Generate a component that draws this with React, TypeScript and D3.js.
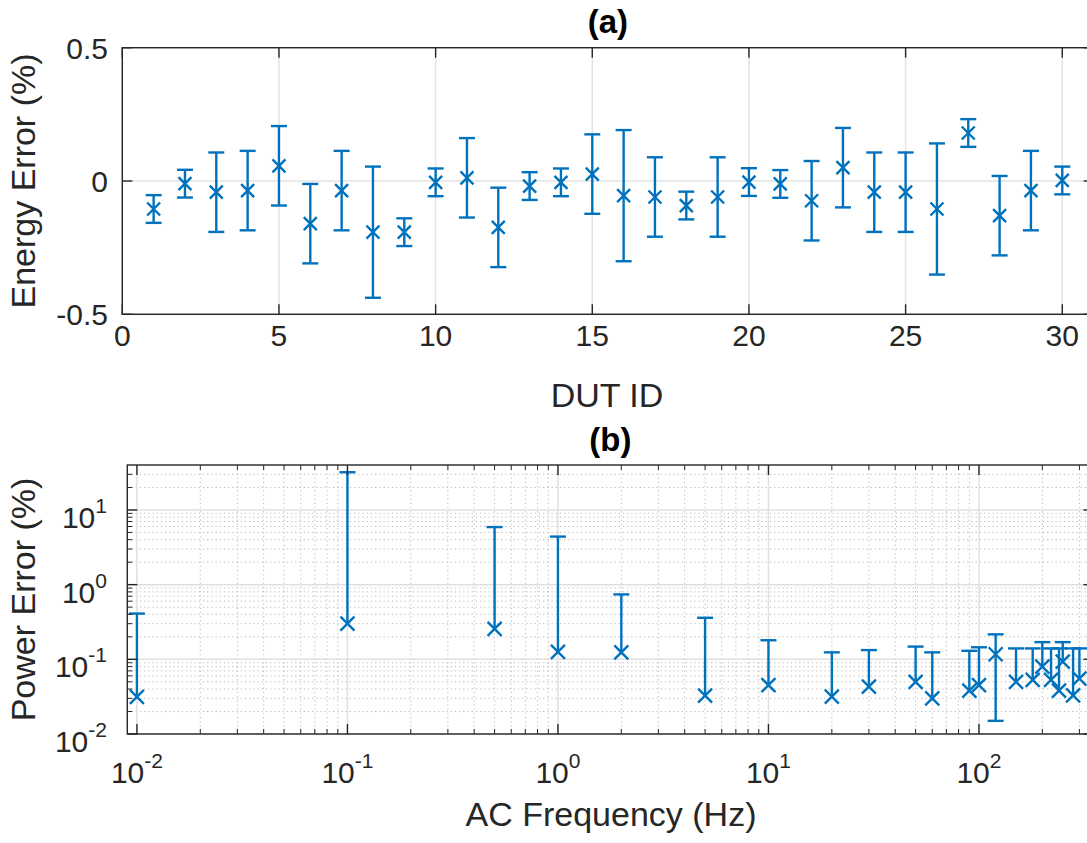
import React from 'react';
import * as d3 from 'd3';

// (a) energy error per DUT
const dutIds = [1, 2, 3, 4, 5, 6, 7, 8, 9, 10, 11, 12, 13, 14, 15, 16, 17, 18, 19, 20, 21, 22, 23, 24, 25, 26, 27, 28, 29, 30];
const energyMean = [-0.105, -0.01, -0.042, -0.036, 0.057, -0.16, -0.036, -0.192, -0.192, -0.005, 0.012, -0.174, -0.019, -0.005, 0.026, -0.055, -0.06, -0.092, -0.06, -0.004, -0.011, -0.074, 0.05, -0.042, -0.042, -0.105, 0.18, -0.13, -0.036, 0.002];
const energyErr = [0.052, 0.052, 0.149, 0.149, 0.149, 0.149, 0.149, 0.246, 0.052, 0.052, 0.149, 0.149, 0.052, 0.052, 0.149, 0.246, 0.149, 0.052, 0.149, 0.052, 0.052, 0.149, 0.149, 0.149, 0.149, 0.246, 0.052, 0.149, 0.149, 0.052];
const energyTicksX = [0, 5, 10, 15, 20, 25, 30];
const energyTicksY = [-0.5, 0, 0.5];
const energyTickLabelsY = ['-0.5', '0', '0.5'];

// (b) power error vs AC frequency
const freqHz = [0.01, 0.1, 0.5, 1, 2, 5, 10, 20, 30, 50, 60, 90, 100, 120, 150, 180, 200, 220, 240, 250, 280, 300];
const powerErr = [0.0315, 0.3, 0.255, 0.126, 0.124, 0.0326, 0.045, 0.0316, 0.043, 0.05, 0.03, 0.038, 0.045, 0.117, 0.05, 0.053, 0.08, 0.053, 0.038, 0.093, 0.033, 0.055];
const powerUpper = [0.41, 32, 5.9, 4.4, 0.74, 0.36, 0.18, 0.124, 0.133, 0.148, 0.124, 0.13, 0.145, 0.216, 0.14, 0.14, 0.17, 0.14, 0.14, 0.17, 0.14, 0.14];
const powerLower = [null, null, null, null, null, null, null, null, null, null, null, null, null, 0.015, null, null, null, null, null, null, null, null];
const decadeExps = [-2, -1, 0, 1, 2];
const powerDecadeExps = [-2, -1, 0, 1];

const BLUE = '#0072BD';
const AXIS = '#262626';
const FONT = 'Liberation Sans, Arial, Helvetica, sans-serif';

const Cross = ({ x, y, r }) => (
  <path d={`M${x - r},${y - r}L${x + r},${y + r}M${x - r},${y + r}L${x + r},${y - r}`} stroke={BLUE} strokeWidth={2.4} fill="none" />
);

const PanelA = () => {
  const left = 122.3, right = 1093.6, top = 47.7, bottom = 314.3;
  const x = d3.scaleLinear().domain([0, 31]).range([left, right]);
  const y = d3.scaleLinear().domain([-0.5, 0.5]).range([bottom, top]);
  const cap = 8;
  const tl = 10;
  return (
    <g>
      {energyTicksX.map(t => (
        <line key={'gx' + t} x1={x(t)} x2={x(t)} y1={top} y2={bottom} stroke="#e3e3e3" strokeWidth={1.5} />
      ))}
      {energyTicksY.map(t => (
        <line key={'gy' + t} x1={left} x2={right} y1={y(t)} y2={y(t)} stroke="#e3e3e3" strokeWidth={1.5} />
      ))}
      {dutIds.map((id, i) => {
        const cx = x(id);
        const hi = y(energyMean[i] + energyErr[i]);
        const lo = y(energyMean[i] - energyErr[i]);
        return (
          <g key={id} stroke={BLUE} strokeWidth={2.4}>
            <line x1={cx} x2={cx} y1={hi} y2={lo} />
            <line x1={cx - cap} x2={cx + cap} y1={hi} y2={hi} />
            <line x1={cx - cap} x2={cx + cap} y1={lo} y2={lo} />
            <Cross x={cx} y={y(energyMean[i])} r={6.5} />
          </g>
        );
      })}
      <rect x={left} y={top} width={right - left} height={bottom - top} fill="none" stroke={AXIS} strokeWidth={1.4} />
      {energyTicksX.map(t => (
        <g key={'tx' + t} stroke={AXIS} strokeWidth={1.4}>
          <line x1={x(t)} x2={x(t)} y1={bottom} y2={bottom - tl} />
          <line x1={x(t)} x2={x(t)} y1={top} y2={top + tl} />
        </g>
      ))}
      {energyTicksY.map(t => (
        <g key={'ty' + t} stroke={AXIS} strokeWidth={1.4}>
          <line x1={left} x2={left + tl} y1={y(t)} y2={y(t)} />
          <line x1={right} x2={right - tl} y1={y(t)} y2={y(t)} />
        </g>
      ))}
      {energyTicksX.map(t => (
        <text key={'lx' + t} x={x(t)} y={346} textAnchor="middle" fontSize={30} fill={AXIS}>{t}</text>
      ))}
      {energyTicksY.map((t, i) => (
        <text key={'ly' + t} x={108} y={y(t) + 11} textAnchor="end" fontSize={30} fill={AXIS}>{energyTickLabelsY[i]}</text>
      ))}
      <text x={(left + right) / 2} y={33} textAnchor="middle" fontSize={33} fontWeight="bold" fill="#000">(a)</text>
      <text x={607} y={407} textAnchor="middle" fontSize={34} fill={AXIS}>DUT ID</text>
      <text transform={`translate(35,${(top + bottom) / 2}) rotate(-90)`} textAnchor="middle" fontSize={34} fill={AXIS}>Energy Error (%)</text>
    </g>
  );
};

const PanelB = () => {
  const left = 127.3, right = 1093.5, top = 465, bottom = 734;
  const x = d3.scaleLog().domain([0.009, 350]).range([left, right]);
  const y = d3.scaleLog().domain([0.01, 40]).range([bottom, top]);
  const cap = 8;
  const tl = 10;
  const minorX = [];
  decadeExps.forEach(e => {
    for (let m = 2; m <= 9; m++) {
      const v = m * Math.pow(10, e);
      if (v > 0.009 && v < 350) minorX.push(v);
    }
  });
  const minorY = [];
  powerDecadeExps.forEach(e => {
    for (let m = 2; m <= 9; m++) {
      const v = m * Math.pow(10, e);
      if (v > 0.01 && v < 40) minorY.push(v);
    }
  });
  return (
    <g>
      {minorX.map(v => (
        <line key={'mx' + v} x1={x(v)} x2={x(v)} y1={top} y2={bottom} stroke="#b8b8b8" strokeWidth={1} strokeDasharray="1.2,3" />
      ))}
      {minorY.map(v => (
        <line key={'my' + v} x1={left} x2={right} y1={y(v)} y2={y(v)} stroke="#b8b8b8" strokeWidth={1} strokeDasharray="1.2,3" />
      ))}
      {decadeExps.map(e => (
        <line key={'gx' + e} x1={x(Math.pow(10, e))} x2={x(Math.pow(10, e))} y1={top} y2={bottom} stroke="#e0e0e0" strokeWidth={1.5} />
      ))}
      {powerDecadeExps.map(e => (
        <line key={'gy' + e} x1={left} x2={right} y1={y(Math.pow(10, e))} y2={y(Math.pow(10, e))} stroke="#e0e0e0" strokeWidth={1.5} />
      ))}
      {freqHz.map((f, i) => {
        const cx = x(f);
        const hi = y(powerUpper[i]);
        const lowVal = powerLower[i];
        const lo = lowVal != null ? y(lowVal) : y(powerErr[i]);
        return (
          <g key={'p' + f} stroke={BLUE} strokeWidth={2.4}>
            <line x1={cx} x2={cx} y1={hi} y2={lo} />
            <line x1={cx - cap} x2={cx + cap} y1={hi} y2={hi} />
            {lowVal != null && <line x1={cx - cap} x2={cx + cap} y1={lo} y2={lo} />}
            <Cross x={cx} y={y(powerErr[i])} r={7} />
          </g>
        );
      })}
      <rect x={left} y={top} width={right - left} height={bottom - top} fill="none" stroke={AXIS} strokeWidth={1.4} />
      {decadeExps.map(e => {
        const px = x(Math.pow(10, e));
        return (
          <g key={'tx' + e} stroke={AXIS} strokeWidth={1.4}>
            <line x1={px} x2={px} y1={bottom} y2={bottom - tl} />
            <line x1={px} x2={px} y1={top} y2={top + tl} />
          </g>
        );
      })}
      {minorX.map(v => (
        <g key={'mtx' + v} stroke={AXIS} strokeWidth={1}>
          <line x1={x(v)} x2={x(v)} y1={bottom} y2={bottom - 5} />
          <line x1={x(v)} x2={x(v)} y1={top} y2={top + 5} />
        </g>
      ))}
      {powerDecadeExps.map(e => {
        const py = y(Math.pow(10, e));
        return (
          <g key={'ty' + e} stroke={AXIS} strokeWidth={1.4}>
            <line x1={left} x2={left + tl} y1={py} y2={py} />
            <line x1={right} x2={right - tl} y1={py} y2={py} />
          </g>
        );
      })}
      {minorY.map(v => (
        <g key={'mty' + v} stroke={AXIS} strokeWidth={1}>
          <line x1={left} x2={left + 5} y1={y(v)} y2={y(v)} />
          <line x1={right} x2={right - 5} y1={y(v)} y2={y(v)} />
        </g>
      ))}
      {decadeExps.map(e => (
        <text key={'lx' + e} x={x(Math.pow(10, e))} y={783} textAnchor="middle" fontSize={30} fill={AXIS}>
          <tspan>10</tspan>
          <tspan dy={-15} fontSize={21}>{e}</tspan>
        </text>
      ))}
      {powerDecadeExps.map(e => (
        <text key={'ly' + e} x={107} y={y(Math.pow(10, e)) + 18} textAnchor="end" fontSize={30} fill={AXIS}>
          <tspan>10</tspan>
          <tspan dy={-15} fontSize={21}>{e}</tspan>
        </text>
      ))}
      <text x={(left + right) / 2} y={451} textAnchor="middle" fontSize={33} fontWeight="bold" fill="#000">(b)</text>
      <text x={611} y={826} textAnchor="middle" fontSize={34} fill={AXIS}>AC Frequency (Hz)</text>
      <text transform={`translate(35,${(top + bottom) / 2}) rotate(-90)`} textAnchor="middle" fontSize={34} fill={AXIS}>Power Error (%)</text>
    </g>
  );
};

export default function App() {
  return (
    <svg width={1087} height={843} style={{ position: 'absolute', left: 0, top: 0, background: '#fff' }} fontFamily={FONT}>
      <rect width={1087} height={843} fill="#fff" />
      <PanelA />
      <PanelB />
    </svg>
  );
}
